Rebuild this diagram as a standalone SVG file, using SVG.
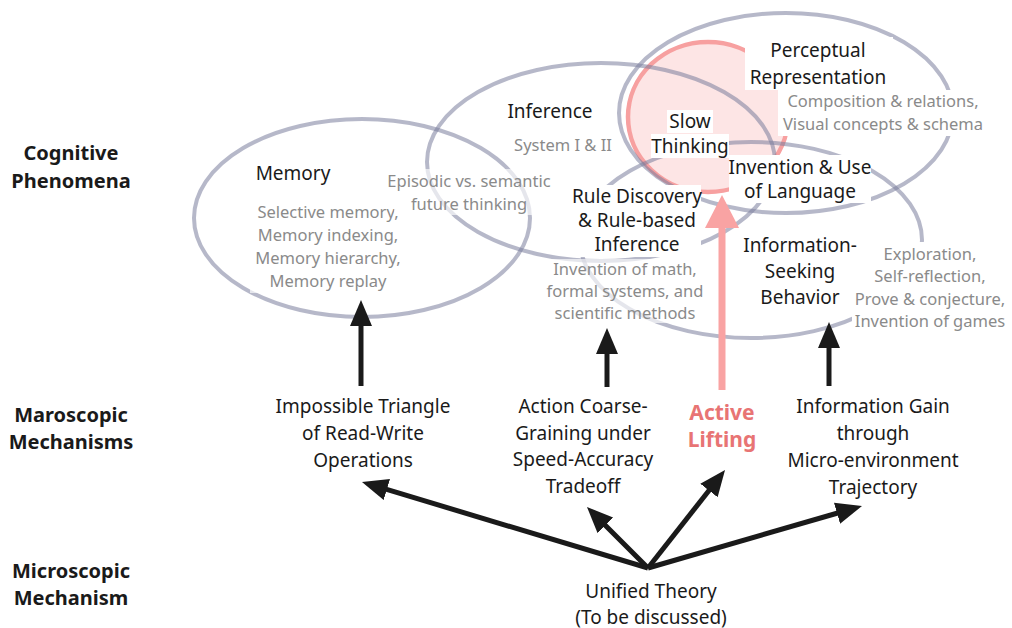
<svg xmlns="http://www.w3.org/2000/svg" width="1012" height="628" viewBox="0 0 1012 628">
<style>
.ell{fill:none;stroke:#7a7d9c;stroke-opacity:0.55;stroke-width:4}
.t{font-family:"Noto Sans","Open Sans","Liberation Sans",sans-serif;font-size:19px;fill:#1a1a1a;text-anchor:middle}
.g{font-family:"Noto Sans","Open Sans","Liberation Sans",sans-serif;font-size:16.5px;fill:#8a8a8a;text-anchor:middle}
.h{font-family:"Noto Sans","Open Sans","Liberation Sans",sans-serif;font-size:20px;font-weight:bold;fill:#1a1a1a;text-anchor:middle}
.p{font-family:"Noto Sans","Open Sans","Liberation Sans",sans-serif;font-size:21px;font-weight:bold;fill:#e87474;text-anchor:middle}
.bg{fill:#fff}
.bgs{fill:#fff;fill-opacity:0.65}
.ar{stroke:#1a1a1a;stroke-width:5;fill:none}
</style>
<defs>
<marker id="ah" markerUnits="userSpaceOnUse" markerWidth="28" markerHeight="24" refX="8" refY="11" orient="auto">
<path d="M0,0 L26,11 L0,22 z" fill="#1a1a1a"/>
</marker>
</defs>
<rect width="1012" height="628" fill="#fff"/>

<g id="levels">
<text class="h" x="71" y="160">Cognitive</text>
<text class="h" x="71" y="188">Phenomena</text>
<text class="h" x="71" y="422">Maroscopic</text>
<text class="h" x="71" y="449">Mechanisms</text>
<text class="h" x="71" y="578">Microscopic</text>
<text class="h" x="71" y="605">Mechanism</text>
</g>

<g id="slow-thinking-circle">
<ellipse cx="708" cy="117" rx="80" ry="75" fill="#fde0e0" fill-opacity="0.85" stroke="#f7a0a0" stroke-width="4.5"/>
</g>

<g id="ellipses">
<ellipse id="memory-ellipse" class="ell" cx="362" cy="218" rx="168" ry="99"/>
<ellipse id="inference-ellipse" class="ell" cx="601" cy="162" rx="174" ry="99"/>
<ellipse id="perceptual-ellipse" class="ell" cx="786" cy="113" rx="167" ry="100"/>
<ellipse id="info-ellipse" class="ell" cx="751" cy="240" rx="171" ry="98"/>
</g>

<g id="memory">
<text class="t" x="293" y="180">Memory</text>
<rect class="bgs" x="250" y="201" width="156" height="92"/>
<text class="g" x="328" y="218">Selective memory,</text>
<text class="g" x="328" y="241">Memory indexing,</text>
<text class="g" x="328" y="264">Memory hierarchy,</text>
<text class="g" x="328" y="287">Memory replay</text>
</g>

<g id="episodic">
<rect class="bgs" x="394" y="169" width="150" height="46"/>
<text class="g" x="469" y="187">Episodic vs. semantic</text>
<text class="g" x="469" y="210">future thinking</text>
</g>

<g id="inference">
<text class="t" x="550" y="118">Inference</text>
<text class="g" x="563" y="151">System I &amp; II</text>
</g>

<g id="perceptual">
<rect class="bg" x="745" y="37" width="148" height="53"/>
<text class="t" x="818" y="57">Perceptual</text>
<text class="t" x="818" y="84">Representation</text>
<rect class="bg" x="778" y="90" width="212" height="46"/>
<text class="g" x="883" y="107">Composition &amp; relations,</text>
<text class="g" x="883" y="130">Visual concepts &amp; schema</text>
</g>

<g id="slow-thinking">
<rect class="bg" x="667" y="110" width="46" height="23"/>
<rect class="bg" x="651" y="134" width="78" height="24"/>
<text class="t" x="690" y="128">Slow</text>
<text class="t" x="690" y="153">Thinking</text>
</g>

<g id="language">
<rect class="bg" x="729" y="155" width="142" height="48"/>
<text class="t" x="800" y="174">Invention &amp; Use</text>
<text class="t" x="800" y="198">of Language</text>
</g>

<g id="rule-discovery">
<rect class="bg" x="573" y="185" width="128" height="72"/>
<text class="t" x="637" y="203">Rule Discovery</text>
<text class="t" x="637" y="227">&amp; Rule-based</text>
<text class="t" x="637" y="251">Inference</text>
<rect class="bgs" x="543" y="259" width="166" height="64"/>
<text class="g" x="625" y="275">Invention of math,</text>
<text class="g" x="625" y="297">formal systems, and</text>
<text class="g" x="625" y="319">scientific methods</text>
</g>

<g id="info-seeking">
<rect class="bg" x="852" y="242" width="158" height="92"/>
<text class="t" x="800" y="252">Information-</text>
<text class="t" x="800" y="278">Seeking</text>
<text class="t" x="800" y="304">Behavior</text>
<text class="g" x="930" y="260">Exploration,</text>
<text class="g" x="930" y="282">Self-reflection,</text>
<text class="g" x="930" y="305">Prove &amp; conjecture,</text>
<text class="g" x="930" y="327">Invention of games</text>
</g>

<g id="impossible-triangle">
<text class="t" x="363" y="413">Impossible Triangle</text>
<text class="t" x="363" y="440">of Read-Write</text>
<text class="t" x="363" y="467">Operations</text>
</g>

<g id="action-coarse-graining">
<text class="t" x="583" y="413">Action Coarse-</text>
<text class="t" x="583" y="440">Graining under</text>
<text class="t" x="583" y="466">Speed-Accuracy</text>
<text class="t" x="583" y="493">Tradeoff</text>
</g>

<g id="active-lifting">
<text class="p" x="722" y="420">Active</text>
<text class="p" x="722" y="447">Lifting</text>
</g>

<g id="information-gain">
<text class="t" x="873" y="413">Information Gain</text>
<text class="t" x="873" y="440">through</text>
<text class="t" x="873" y="467">Micro-environment</text>
<text class="t" x="873" y="494">Trajectory</text>
</g>

<g id="unified-theory">
<text class="t" x="651" y="598">Unified Theory</text>
<text class="t" x="651" y="624">(To be discussed)</text>
</g>

<g id="connectors">
<line class="ar" x1="361" y1="386" x2="361" y2="318" marker-end="url(#ah)"/>
<line class="ar" x1="607" y1="387" x2="607" y2="346" marker-end="url(#ah)"/>
<line class="ar" x1="829" y1="386" x2="829" y2="340" marker-end="url(#ah)"/>
<line x1="722" y1="390" x2="722" y2="222" stroke="#f9a3a3" stroke-width="7"/>
<polygon points="722,195 739,228 705,228" fill="#f9a3a3"/>
<line class="ar" x1="648" y1="568" x2="379.2" y2="487.2" marker-end="url(#ah)"/>
<line class="ar" x1="648" y1="568" x2="599.7" y2="519.7" marker-end="url(#ah)"/>
<line class="ar" x1="648" y1="568" x2="713.9" y2="484.2" marker-end="url(#ah)"/>
<line class="ar" x1="648" y1="568" x2="844.7" y2="511" marker-end="url(#ah)"/>
</g>
</svg>
